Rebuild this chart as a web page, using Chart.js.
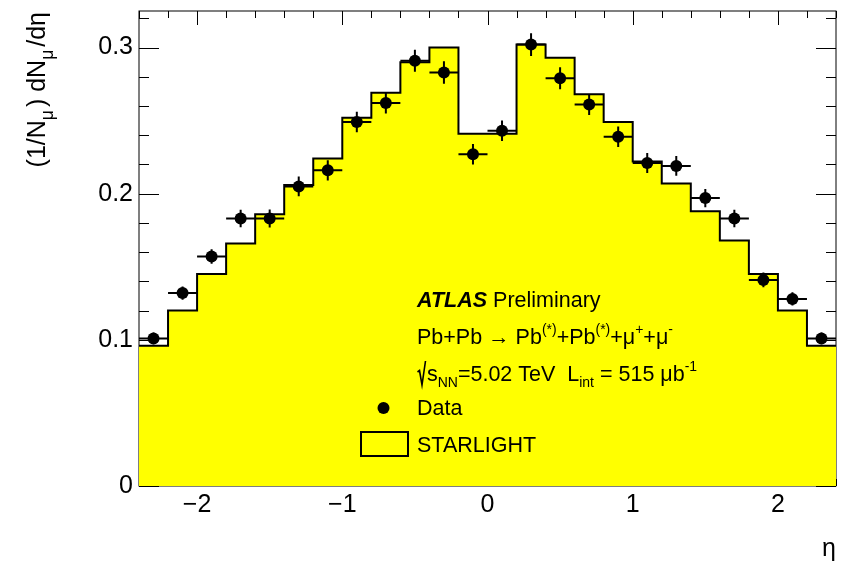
<!DOCTYPE html>
<html>
<head>
<meta charset="utf-8">
<script src="https://cdn.jsdelivr.net/npm/chart.js@4.4.1/dist/chart.umd.min.js"></script>
<style>
  html, body { margin: 0; padding: 0; background: #fff; }
</style>
</head>
<body>
<canvas id="c" width="842" height="562"></canvas>
<script>
// eta bin centres (bin width 0.2)
const etaCentres = [-2.3, -2.1, -1.9, -1.7, -1.5, -1.3, -1.1, -0.9, -0.7, -0.5, -0.3, -0.1,
                     0.1,  0.3,  0.5,  0.7,  0.9,  1.1,  1.3,  1.5,  1.7,  1.9,  2.1,  2.3];
const binHalfWidth = 0.1;

// measured (1/N) dN/deta
const dataValues = [0.101, 0.132, 0.157, 0.183, 0.183, 0.205, 0.216, 0.249, 0.262, 0.291, 0.283, 0.227,
                    0.243, 0.302, 0.279, 0.261, 0.239, 0.221, 0.219, 0.197, 0.183, 0.141, 0.128, 0.101];
const dataErrors = [0.004, 0.0045, 0.005, 0.006, 0.0062, 0.0068, 0.0069, 0.007, 0.0072, 0.0075, 0.0077, 0.007,
                    0.007, 0.0078, 0.0075, 0.0072, 0.007, 0.0069, 0.0068, 0.0062, 0.006, 0.005, 0.0045, 0.004];

// STARLIGHT prediction per bin
const starlightValues = [0.096, 0.120, 0.145, 0.166, 0.186, 0.206, 0.224, 0.252, 0.269, 0.290, 0.300, 0.241,
                         0.241, 0.302, 0.293, 0.268, 0.249, 0.222, 0.207, 0.188, 0.168, 0.145, 0.120, 0.096];

const xTickValues = [-2, -1, 0, 1, 2];
const yTickValues = [0, 0.1, 0.2, 0.3];

const FONT = '"Liberation Sans", Arial, Helvetica, sans-serif';
const YELLOW = '#ffff00';

// histogram outline: one point per low edge, plus the last high edge
const starlightSteps = starlightValues.map((v, i) => ({ x: etaCentres[i] - binHalfWidth, y: v }));
starlightSteps.push({ x: etaCentres[etaCentres.length - 1] + binHalfWidth, y: starlightValues[starlightValues.length - 1] });

const dataPoints = dataValues.map((v, i) => ({ x: etaCentres[i], y: v }));

// draws a run of text pieces with sub/superscripts, returns end x
function drawRuns(ctx, x, y, runs, size, measureOnly) {
  for (const r of runs) {
    const s = size * (r.scale || 1);
    ctx.font = (r.style || '') + ' ' + s + 'px ' + FONT;
    if (!measureOnly) ctx.fillText(r.text, x, y + (r.dy || 0) * size);
    x += ctx.measureText(r.text).width + (r.gap || 0);
  }
  return x;
}

const frameTicks = {
  id: 'frameTicks',
  beforeDatasetsDraw(chart) {
    const { ctx, chartArea: a, scales: { x, y } } = chart;
    ctx.save();
    ctx.strokeStyle = '#000';
    ctx.lineWidth = 1;
    ctx.strokeRect(a.left, a.top, a.right - a.left, a.bottom - a.top);
    ctx.beginPath();
    // y ticks, both sides
    for (let k = 0; k <= 16; k++) {
      const v = k * 0.02;
      const py = Math.round(y.getPixelForValue(v)) + 0.5;
      const len = k % 5 === 0 ? 20 : 10;
      ctx.moveTo(a.left, py); ctx.lineTo(a.left + len, py);
      ctx.moveTo(a.right, py); ctx.lineTo(a.right - len, py);
    }
    // x ticks, top and bottom
    for (let k = -12; k <= 12; k++) {
      const v = k * 0.2;
      const px = Math.round(x.getPixelForValue(v)) + 0.5;
      const len = k % 5 === 0 ? 14 : 7;
      ctx.moveTo(px, a.top); ctx.lineTo(px, a.top + len);
      ctx.moveTo(px, a.bottom); ctx.lineTo(px, a.bottom - len);
    }
    ctx.stroke();
    ctx.restore();
  }
};

const errorBars = {
  id: 'errorBars',
  afterDatasetsDraw(chart) {
    const { ctx, scales: { x, y } } = chart;
    ctx.save();
    ctx.strokeStyle = '#000';
    ctx.lineWidth = 2;
    ctx.beginPath();
    dataValues.forEach((v, i) => {
      const cx = x.getPixelForValue(etaCentres[i]);
      const cy = y.getPixelForValue(v);
      ctx.moveTo(x.getPixelForValue(etaCentres[i] - binHalfWidth), cy);
      ctx.lineTo(x.getPixelForValue(etaCentres[i] + binHalfWidth), cy);
      ctx.moveTo(cx, y.getPixelForValue(v - dataErrors[i]));
      ctx.lineTo(cx, y.getPixelForValue(v + dataErrors[i]));
    });
    ctx.stroke();
    ctx.restore();
  }
};

const annotations = {
  id: 'annotations',
  afterDraw(chart) {
    const { ctx } = chart;
    ctx.save();
    ctx.fillStyle = '#000';
    ctx.textAlign = 'left';
    ctx.textBaseline = 'alphabetic';
    const fs = 21.5;
    const tx = 417;

    drawRuns(ctx, tx, 307, [
      { text: 'ATLAS', style: 'italic bold' },
      { text: ' Preliminary' }
    ], fs);

    drawRuns(ctx, tx, 344, [
      { text: 'Pb+Pb \u2192 Pb' },
      { text: '(*)', scale: 0.65, dy: -0.45 },
      { text: '+Pb' },
      { text: '(*)', scale: 0.65, dy: -0.45 },
      { text: '+\u03bc' },
      { text: '+', scale: 0.65, dy: -0.45 },
      { text: '+\u03bc' },
      { text: '-', scale: 0.65, dy: -0.45 }
    ], fs);

    // square root sign
    ctx.beginPath();
    ctx.lineWidth = 1.6;
    ctx.strokeStyle = '#000';
    ctx.moveTo(417.5, 372); ctx.lineTo(419.5, 370.5);
    ctx.lineTo(422, 385); ctx.lineTo(425.5, 361);
    ctx.stroke();
    drawRuns(ctx, 427, 381, [
      { text: 's' },
      { text: 'NN', scale: 0.65, dy: 0.3 },
      { text: '=5.02 TeV  L' },
      { text: 'int', scale: 0.65, dy: 0.3 },
      { text: ' = 515 \u03bcb' },
      { text: '-1', scale: 0.65, dy: -0.45 }
    ], fs);

    // legend
    ctx.beginPath();
    ctx.arc(383.5, 408, 6, 0, Math.PI * 2);
    ctx.fill();
    drawRuns(ctx, tx, 415, [{ text: 'Data' }], fs);

    ctx.fillStyle = YELLOW;
    ctx.fillRect(361, 432, 47, 24);
    ctx.lineWidth = 2;
    ctx.strokeRect(361, 432, 47, 24);
    ctx.fillStyle = '#000';
    drawRuns(ctx, tx, 452, [{ text: 'STARLIGHT' }], fs);

    // axis titles
    ctx.font = '25px ' + FONT;
    ctx.textAlign = 'right';
    ctx.fillText('\u03b7', 836, 556);

    ctx.textAlign = 'left';
    const yTitle = [
      { text: '(1/N' },
      { text: '\u03bc', scale: 0.7, dy: 0.3, gap: 3 },
      { text: ') dN' },
      { text: '\u03bc', scale: 0.7, dy: 0.3, gap: 3 },
      { text: '/d\u03b7' }
    ];
    const w = drawRuns(ctx, 0, 0, yTitle, 25, true);
    ctx.translate(45, 12);
    ctx.rotate(-Math.PI / 2);
    drawRuns(ctx, -w, 0, yTitle, 25);
    ctx.restore();
  }
};

new Chart(document.getElementById('c'), {
  type: 'line',
  data: {
    datasets: [
      {
        type: 'scatter',
        label: 'Data',
        data: dataPoints,
        showLine: false,
        pointRadius: 6,
        pointBackgroundColor: '#000',
        pointBorderWidth: 0,
        order: 0
      },
      {
        label: 'STARLIGHT',
        data: starlightSteps,
        stepped: true,
        borderColor: '#000',
        borderWidth: 2,
        backgroundColor: YELLOW,
        fill: 'origin',
        pointRadius: 0,
        order: 1
      }
    ]
  },
  options: {
    responsive: false,
    animation: false,
    devicePixelRatio: 1,
    layout: { padding: { top: 11, right: 6, left: 0, bottom: 0 } },
    plugins: { legend: { display: false }, tooltip: { enabled: false } },
    scales: {
      x: {
        type: 'linear',
        min: -2.4,
        max: 2.4,
        grid: { display: false, drawTicks: false },
        border: { display: false },
        afterBuildTicks: axis => { axis.ticks = xTickValues.map(v => ({ value: v })); },
        afterFit: axis => {
          axis.height = 76;
          axis.paddingLeft = 0;
          axis.paddingRight = 0;
        },
        ticks: {
          padding: 4,
          maxRotation: 0,
          color: '#000',
          font: { family: FONT, size: 25 },
          callback: v => (v < 0 ? '\u2212' + Math.abs(v) : String(v))
        }
      },
      y: {
        min: 0,
        max: 0.325,
        grid: { display: false, drawTicks: false },
        border: { display: false },
        afterBuildTicks: axis => { axis.ticks = yTickValues.map(v => ({ value: v })); },
        afterFit: axis => {
          axis.width = 139;
          axis.paddingTop = 0;
          axis.paddingBottom = 0;
        },
        ticks: {
          padding: 6,
          color: '#000',
          font: { family: FONT, size: 25 },
          callback: v => (v === 0 ? '0' : v.toFixed(1))
        }
      }
    }
  },
  plugins: [frameTicks, errorBars, annotations]
});
</script>
</body>
</html>
